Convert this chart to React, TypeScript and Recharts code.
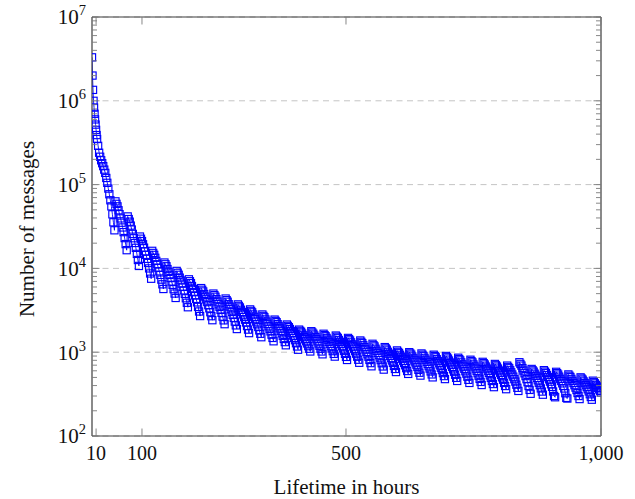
import React from 'react';
import { ComposedChart, Line, XAxis, YAxis, CartesianGrid } from 'recharts';

// first hours, steep drop
const earlyHours = [2, 3, 4, 5, 6, 7, 8, 9, 10, 11, 12, 14, 16, 18, 20, 22];
const earlyMessages = [
  3300000, 2000000, 1350000, 1000000, 830000, 700000, 600000, 520000,
  450000, 390000, 350000, 290000, 240000, 215000, 195000, 180000,
];

// one row per day (day 1 .. day 40), sampled every 2 hours within the day
const sampleOffsets = [0, 2, 4, 6, 8, 10, 12, 14, 16, 18, 20, 22];
const dailyMessages = [
  [166000, 151000, 138000, 120000, 105000, 89700, 76700, 65000, 55000, 44200, 35500, 28500],
  [63100, 58900, 55000, 49400, 44400, 39500, 35100, 30800, 27100, 23000, 19500, 16500],
  [41700, 38800, 36100, 32400, 29100, 25800, 22900, 20100, 17600, 14900, 12600, 10700],
  [24000, 22600, 21200, 19400, 17700, 16000, 14500, 13000, 11600, 10000, 8700, 7530],
  [16200, 15300, 14500, 13400, 12300, 11200, 10200, 9230, 8360, 7350, 6460, 5680],
  [11750, 11200, 10600, 9820, 9100, 8360, 7670, 6990, 6370, 5650, 5010, 4440],
  [9330, 8850, 8390, 7760, 7180, 6580, 6030, 5470, 4970, 4400, 3890, 3440],
  [7410, 7030, 6670, 6160, 5690, 5200, 4760, 4330, 3930, 3470, 3060, 2700],
  [5820, 5560, 5310, 4950, 4610, 4270, 3960, 3640, 3340, 3000, 2690, 2410],
  [5010, 4800, 4590, 4300, 4020, 3730, 3470, 3200, 2950, 2660, 2400, 2160],
  [4370, 4180, 4000, 3740, 3500, 3250, 3020, 2790, 2570, 2320, 2090, 1890],
  [3720, 3570, 3420, 3210, 3020, 2820, 2630, 2440, 2260, 2050, 1860, 1690],
  [3240, 3110, 2990, 2820, 2650, 2480, 2320, 2150, 2000, 1820, 1660, 1510],
  [2820, 2710, 2610, 2460, 2320, 2180, 2040, 1900, 1770, 1620, 1480, 1350],
  [2450, 2360, 2280, 2160, 2040, 1920, 1800, 1680, 1570, 1440, 1320, 1210],
  [2140, 2060, 1990, 1890, 1790, 1680, 1580, 1480, 1390, 1280, 1170, 1070],
  [1860, 1800, 1750, 1670, 1590, 1510, 1430, 1350, 1270, 1180, 1100, 1020],
  [1780, 1720, 1660, 1580, 1510, 1430, 1350, 1270, 1190, 1100, 1020, 944],
  [1660, 1600, 1550, 1480, 1410, 1330, 1260, 1180, 1110, 1030, 955, 886],
  [1580, 1530, 1480, 1400, 1330, 1250, 1180, 1110, 1040, 956, 879, 808],
  [1480, 1430, 1380, 1310, 1240, 1170, 1100, 1030, 960, 883, 813, 748],
  [1380, 1330, 1280, 1210, 1150, 1080, 1010, 944, 883, 809, 741, 679],
  [1260, 1210, 1170, 1100, 1040, 980, 923, 862, 805, 738, 676, 620],
  [1150, 1110, 1070, 1010, 960, 904, 851, 797, 746, 686, 631, 580],
  [1050, 1010, 980, 931, 885, 836, 790, 743, 698, 645, 596, 551],
  [1000, 967, 935, 889, 845, 799, 755, 710, 667, 616, 569, 526],
  [966, 933, 902, 856, 813, 767, 724, 680, 638, 589, 543, 501],
  [933, 900, 869, 824, 782, 738, 697, 653, 611, 563, 519, 478],
  [902, 870, 839, 795, 753, 709, 668, 625, 585, 538, 494, 454],
  [859, 828, 798, 756, 716, 674, 634, 593, 555, 510, 468, 430],
  [813, 783, 755, 714, 676, 637, 600, 561, 524, 481, 442, 406],
  [767, 740, 713, 674, 638, 601, 566, 529, 494, 454, 417, 383],
  [724, 698, 673, 638, 604, 569, 536, 501, 469, 430, 395, 362],
  [692, 667, 643, 608, 575, 542, 511, 477, 446, 410, 376, 345],
  [759, 725, 692, 647, 604, 560, 519, 477, 439, 395, 355, 319],
  [631, 608, 586, 554, 524, 492, 462, 432, 404, 370, 339, 311],
  [610, 587, 565, 534, 505, 474, 445, 414, 386, 340, 300, 290],
  [583, 562, 541, 511, 482, 453, 425, 396, 369, 324, 285, 280],
  [543, 524, 506, 480, 455, 429, 404, 378, 354, 326, 300, 276],
  [501, 485, 470, 448, 427, 404, 383, 361, 340, 315, 292, 271],
];
const lastHours = [984, 986, 988, 990, 992, 994, 996, 998, 1000];
const lastMessages = [457, 441, 425, 407, 390, 375, 360, 345, 330];

const xTicks = [10, 100, 500, 1000];
const yMajorTicks = [100, 1000, 10000, 100000, 1000000, 10000000];
const yMinorSteps = [2, 3, 4, 5, 6, 7, 8, 9];

const data: { hour: number; messages: number }[] = [];
earlyHours.forEach((h, i) => data.push({ hour: h, messages: earlyMessages[i] }));
dailyMessages.forEach((row, d) =>
  row.forEach((v, j) => data.push({ hour: 24 * (d + 1) + sampleOffsets[j], messages: v }))
);
lastHours.forEach((h, i) => data.push({ hour: h, messages: lastMessages[i] }));

const yAllTicks: number[] = [];
yMajorTicks.forEach((m, i) => {
  yAllTicks.push(m);
  if (i < yMajorTicks.length - 1) yMinorSteps.forEach((s) => yAllTicks.push(m * s));
});

const FONT = '"Liberation Serif", "DejaVu Serif", serif';
const AXIS = '#3c3c3c';
const TICK = '#7a7a7a';
const BLUE = '#0000ff';
const MAJOR = 7.5;
const MINOR = 5;

const isMajor = (v: number) => yMajorTicks.includes(v);

const LeftTick = (props: any) => {
  const { x, y, payload } = props;
  const v = payload.value;
  const major = isMajor(v);
  return (
    <g>
      <line x1={x} x2={x + (major ? MAJOR : MINOR)} y1={y} y2={y} stroke={TICK} strokeWidth={0.9} />
      {major && (
        <text x={x - 6} y={y} dy="0.35em" textAnchor="end" fontFamily={FONT} fontSize={21} fill="#111">
          <tspan>10</tspan>
          <tspan dy={-9} fontSize={14.5}>{Math.round(Math.log10(v))}</tspan>
        </text>
      )}
    </g>
  );
};

const RightTick = (props: any) => {
  const { x, y, payload } = props;
  const major = isMajor(payload.value);
  return <line x1={x} x2={x - (major ? MAJOR : MINOR)} y1={y} y2={y} stroke={TICK} strokeWidth={0.9} />;
};

const BottomTick = (props: any) => {
  const { x, y, payload } = props;
  return (
    <g>
      <line x1={x} x2={x} y1={y} y2={y - MAJOR} stroke={TICK} strokeWidth={0.9} />
      <text x={x} y={y + 10} dy="0.71em" textAnchor="middle" fontFamily={FONT} fontSize={20} fill="#111">
        {payload.value.toLocaleString('en-US')}
      </text>
    </g>
  );
};

const TopTick = (props: any) => {
  const { x, y } = props;
  return <line x1={x} x2={x} y1={y} y2={y + MAJOR} stroke={TICK} strokeWidth={0.9} />;
};

const SquareDot = (props: any) => {
  const { cx, cy, index } = props;
  if (cx == null || cy == null) return <g key={`d-${index}`} />;
  return (
    <rect
      key={`d-${index}`}
      x={cx - 3.6}
      y={cy - 3.6}
      width={7.2}
      height={7.2}
      fill="none"
      stroke={BLUE}
      strokeWidth={1.15}
    />
  );
};

export default function App() {
  return (
    <div style={{ position: 'absolute', left: 0, top: 0, width: 635, height: 499 }}>
      <ComposedChart
        width={635}
        height={499}
        data={data}
        margin={{ top: 16, right: 33, bottom: 0, left: 0 }}
      >
        <CartesianGrid
          vertical={false}
          yAxisId="grid"
          xAxisId="b"
          stroke="#bdbdbd"
          strokeDasharray="6 4.5"
          strokeWidth={0.9}
        />
        <XAxis
          xAxisId="b"
          type="number"
          dataKey="hour"
          domain={[2, 1000]}
          allowDataOverflow
          ticks={xTicks}
          interval={0}
          height={63}
          tickSize={0}
          tickMargin={0}
          tickLine={false}
          tick={<BottomTick />}
          axisLine={{ stroke: AXIS, strokeWidth: 1.2 }}
        />
        <XAxis
          xAxisId="t"
          orientation="top"
          type="number"
          dataKey="hour"
          domain={[2, 1000]}
          allowDataOverflow
          ticks={xTicks}
          interval={0}
          height={1}
          tickSize={0}
          tickMargin={0}
          tickLine={false}
          tick={<TopTick />}
          axisLine={{ stroke: AXIS, strokeWidth: 1.2 }}
        />
        <YAxis
          yAxisId="l"
          type="number"
          scale="log"
          domain={[100, 10000000]}
          allowDataOverflow
          ticks={yAllTicks}
          interval={0}
          width={92}
          tickSize={0}
          tickMargin={0}
          tickLine={false}
          tick={<LeftTick />}
          axisLine={{ stroke: AXIS, strokeWidth: 1.2 }}
        />
        <YAxis
          yAxisId="r"
          orientation="right"
          type="number"
          scale="log"
          domain={[100, 10000000]}
          allowDataOverflow
          ticks={yAllTicks}
          interval={0}
          width={1}
          tickSize={0}
          tickMargin={0}
          tickLine={false}
          tick={<RightTick />}
          axisLine={{ stroke: AXIS, strokeWidth: 1.2 }}
        />
        <YAxis
          yAxisId="grid"
          orientation="right"
          type="number"
          scale="log"
          domain={[100, 10000000]}
          allowDataOverflow
          ticks={yMajorTicks}
          interval={0}
          width={0}
          hide
        />
        <Line
          xAxisId="b"
          yAxisId="l"
          type="linear"
          dataKey="messages"
          stroke={BLUE}
          strokeWidth={0.9}
          dot={SquareDot}
          activeDot={false}
          isAnimationActive={false}
        />
      </ComposedChart>
      <svg
        width={635}
        height={499}
        style={{ position: 'absolute', left: 0, top: 0, pointerEvents: 'none' }}
      >
        <text
          x={34}
          y={229}
          transform="rotate(-90 34 229)"
          textAnchor="middle"
          fontFamily={FONT}
          fontSize={21}
          fill="#111"
        >
          Number of messages
        </text>
        <text x={346.5} y={494} textAnchor="middle" fontFamily={FONT} fontSize={21} fill="#111">
          Lifetime in hours
        </text>
      </svg>
    </div>
  );
}
